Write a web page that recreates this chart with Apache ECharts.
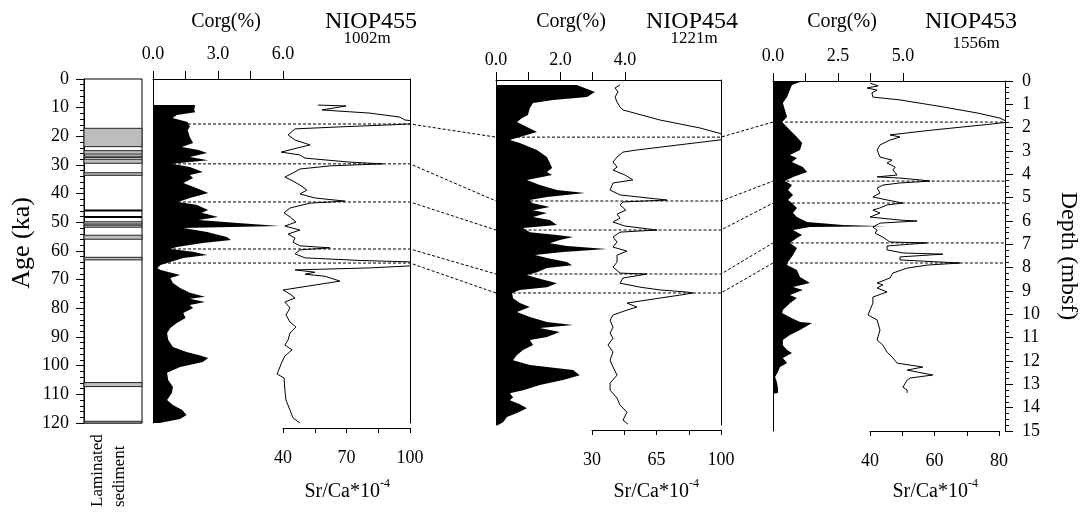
<!DOCTYPE html>
<html>
<head>
<meta charset="utf-8">
<script src="https://cdn.jsdelivr.net/npm/echarts@6/dist/echarts.min.js"></script>
<style>
  html, body { margin: 0; background: #fff; }
  #chart { width: 1083px; height: 524px; }
</style>
</head>
<body>
<div id="chart"></div>
<script>
const FONT = '"Liberation Serif", "DejaVu Serif", serif';

// NIOP455 (age, ka) - Corg fill profile
const age455C = [9.1, 10.8, 11.6, 12.6, 13.6, 15.0, 16.7, 17.8, 20.2, 22.3, 23.7, 24.8, 25.8, 27.2, 28.3, 29.6, 30.7, 32.4, 33.5, 34.5, 36.3, 38.0, 39.8, 41.5, 42.9, 43.9, 45.7, 46.7, 48.1, 49.2, 50.2, 51.3, 52.0, 53.4, 55.1, 56.2, 57.2, 58.6, 59.3, 60.3, 61.4, 62.4, 63.8, 64.9, 65.9, 66.6, 68.4, 69.4, 71.2, 72.9, 74.6, 76.0, 76.7, 77.8, 78.8, 79.9, 81.6, 83.4, 85.1, 86.9, 88.6, 91.0, 93.5, 95.2, 96.3, 97.3, 98.7, 100.5, 102.5, 105.0, 107.4, 109.5, 112.0, 113.7, 115.5, 117.2, 118.6, 120];
const corg455 = [1.94, 1.9, 1.95, 1.1, 0.9, 1.6, 1.7, 1.6, 1.7, 1.85, 1.33, 2.1, 2.5, 1.7, 2.55, 0.87, 1.7, 2.3, 1.7, 1.85, 1.4, 2.0, 2.55, 1.7, 1.15, 2.0, 2.55, 2.25, 3.0, 2.1, 3.9, 5.85, 1.4, 2.5, 3.4, 3.6, 2.3, 1.1, 0.8, 1.85, 2.5, 1.4, 0.8, 0.35, 0.2, 0.35, 1.25, 0.8, 0.92, 1.25, 1.7, 2.4, 1.7, 2.4, 1.7, 1.85, 1.4, 1.5, 1.1, 0.8, 0.65, 0.7, 0.92, 1.55, 2.1, 2.55, 2.3, 1.25, 0.65, 0.7, 0.92, 0.87, 0.65, 0.92, 1.35, 1.55, 1.25, 0.3];
// NIOP455 Sr/Ca
const age455S = [9.1, 9.4, 10.8, 11.9, 13.3, 14.3, 15.3, 16.0, 16.7, 17.4, 19.5, 21.3, 23.0, 24.1, 25.5, 26.5, 27.6, 29.0, 29.6, 30.3, 31.4, 32.8, 34.2, 35.6, 37.0, 38.7, 40.1, 41.5, 42.6, 43.3, 45.0, 46.7, 48.1, 49.9, 51.3, 52.7, 54.1, 55.5, 56.9, 58.2, 58.9, 59.6, 61.0, 62.4, 63.3, 63.8, 64.4, 65.2, 65.9, 66.6, 67.4, 68.1, 68.8, 70.5, 73.6, 75.0, 76.4, 77.8, 79.9, 82.3, 84.8, 86.5, 88.6, 91.0, 92.8, 94.5, 96.6, 98.7, 102.9, 104.3, 108.5, 112.0, 115.5, 118.2, 120.0];
const srca455 = [56.5, 69.8, 58.4, 81.1, 95.3, 97.6, 110.4, 90.5, 66.9, 45.7, 42.4, 45.7, 52.8, 46.6, 39.1, 48.0, 50.4, 71.6, 87.2, 62.2, 48.0, 44.7, 40.9, 44.7, 48.0, 51.3, 48.0, 55.1, 69.3, 52.8, 43.3, 40.5, 43.3, 46.1, 40.9, 48.0, 42.4, 45.7, 44.7, 48.0, 62.2, 48.0, 45.7, 50.4, 76.4, 100, 109.5, 100, 81, 45.7, 55.1, 50.4, 59.8, 66.9, 40.0, 43.3, 45.7, 40.9, 43.3, 41.4, 43.3, 46.1, 43.3, 42.4, 40.9, 44.3, 40.9, 39.5, 37.2, 40.5, 40.9, 41.4, 43.3, 44.7, 48.0];

// NIOP454 (depth, m) - Corg
const d454C = [0.21, 0.43, 0.51, 0.73, 0.85, 0.98, 1.20, 1.50, 1.62, 1.79, 2.01, 2.22, 2.44, 2.56, 2.69, 2.99, 3.29, 3.55, 3.76, 3.93, 4.06, 4.27, 4.49, 4.70, 4.83, 5.00, 5.13, 5.26, 5.43, 5.56, 5.68, 5.85, 5.98, 6.20, 6.32, 6.50, 6.62, 6.71, 6.84, 6.97, 7.09, 7.22, 7.35, 7.48, 7.61, 7.78, 7.91, 8.03, 8.21, 8.33, 8.46, 8.68, 8.85, 8.97, 9.10, 9.32, 9.53, 9.70, 9.91, 10.13, 10.34, 10.47, 10.60, 10.77, 10.98, 11.11, 11.32, 11.54, 11.75, 11.97, 12.18, 12.39, 12.61, 12.82, 13.03, 13.25, 13.38, 13.55, 13.68, 13.85, 14.02, 14.23, 14.40, 14.62, 14.70, 14.75];
const corg454 = [2.51, 2.91, 3.07, 2.82, 1.77, 1.15, 1.05, 0.99, 0.81, 0.65, 0.96, 1.27, 0.74, 0.43, 0.74, 1.27, 1.58, 1.67, 1.74, 1.58, 1.74, 0.96, 1.36, 1.89, 2.76, 1.58, 1.05, 1.12, 1.67, 1.15, 1.58, 1.15, 1.67, 1.89, 0.84, 1.05, 1.89, 2.39, 1.98, 1.67, 2.20, 3.44, 2.08, 1.21, 1.58, 2.20, 2.36, 1.58, 1.27, 0.96, 1.27, 1.89, 1.58, 0.74, 0.50, 0.53, 0.74, 1.05, 0.65, 1.05, 1.58, 2.39, 1.36, 1.98, 1.58, 1.05, 1.15, 0.84, 0.65, 0.53, 1.05, 2.39, 2.60, 2.08, 1.36, 0.84, 0.43, 0.53, 0.43, 0.74, 0.96, 0.65, 0.34, 0.22, 0.12, 0.05];
// NIOP454 Sr/Ca
const d454S = [0.21, 0.34, 0.51, 0.73, 0.94, 1.15, 1.28, 1.71, 2.05, 2.26, 2.44, 2.56, 2.99, 3.08, 3.29, 3.50, 3.72, 3.85, 4.06, 4.27, 4.40, 4.70, 4.91, 5.13, 5.21, 5.34, 5.56, 5.73, 5.90, 6.07, 6.24, 6.41, 6.50, 6.71, 6.92, 7.14, 7.31, 7.48, 7.78, 7.99, 8.25, 8.29, 8.46, 8.68, 8.85, 8.97, 9.06, 9.10, 9.19, 9.40, 9.53, 9.70, 9.83, 10.04, 10.26, 10.56, 10.81, 11.03, 11.32, 11.62, 11.97, 12.26, 12.61, 12.95, 13.25, 13.59, 13.89, 14.19, 14.53, 14.70];
const srca454 = [45.2, 42.5, 44.1, 42.5, 43.6, 45.2, 46.8, 66.9, 88.6, 98.4, 106.0, 99.5, 54.4, 46.8, 43.6, 41.4, 43.6, 41.4, 47.9, 52.2, 41.4, 39.8, 45.2, 70.7, 46.8, 45.2, 48.4, 43.6, 45.2, 41.4, 47.9, 65.3, 45.2, 41.4, 43.6, 41.4, 49.0, 43.6, 43.6, 41.4, 45.2, 59.8, 46.8, 45.2, 56.0, 66.9, 81.5, 84.8, 77.7, 59.8, 49.0, 54.4, 49.0, 41.4, 39.8, 41.4, 39.8, 41.4, 38.7, 41.4, 39.8, 41.4, 43.6, 39.8, 39.8, 43.6, 45.2, 49.0, 46.8, 49.5];

// NIOP453 (depth, mbsf) - Corg
const d453C = [0, 0.17, 0.39, 0.69, 0.94, 1.24, 1.54, 1.76, 2.10, 2.40, 2.66, 2.96, 3.17, 3.30, 3.47, 3.69, 3.90, 4.11, 4.29, 4.46, 4.67, 4.89, 5.10, 5.23, 5.44, 5.66, 5.83, 6.04, 6.17, 6.22, 6.26, 6.39, 6.60, 6.73, 6.94, 7.16, 7.46, 7.76, 7.89, 8.10, 8.40, 8.66, 8.83, 8.96, 9.17, 9.30, 9.52, 9.81, 9.94, 10.12, 10.33, 10.37, 10.67, 10.89, 11.10, 11.32, 11.53, 11.66, 11.87, 12.09, 12.26, 12.47, 12.69, 12.90, 13.16, 13.37, 13.40];
const corg453 = [1.15, 0.73, 0.65, 0.54, 0.38, 0.46, 0.54, 0.35, 0.65, 0.92, 1.12, 1.04, 0.65, 0.92, 0.73, 1.15, 1.31, 0.77, 0.46, 0.73, 0.58, 0.77, 0.58, 0.73, 0.92, 0.77, 0.92, 1.31, 2.69, 4.38, 1.42, 0.77, 1.12, 0.92, 0.65, 0.92, 0.77, 0.58, 0.54, 0.92, 1.04, 1.42, 0.77, 1.15, 0.65, 0.92, 0.65, 0.38, 0.35, 0.65, 1.04, 1.50, 1.04, 0.65, 0.38, 0.38, 0.54, 0.73, 0.38, 0.54, 0.27, 0.19, 0.08, 0.15, 0.19, 0.19, 0];
// NIOP453 Sr/Ca
const d453S = [0.09, 0.21, 0.30, 0.39, 0.51, 0.69, 0.81, 1.11, 1.37, 1.59, 1.76, 1.84, 2.10, 2.31, 2.40, 2.53, 2.74, 2.96, 3.26, 3.39, 3.51, 3.69, 3.81, 4.03, 4.11, 4.16, 4.24, 4.29, 4.37, 4.46, 4.59, 4.80, 4.97, 5.10, 5.23, 5.31, 5.44, 5.53, 5.66, 5.83, 5.96, 6.00, 6.09, 6.26, 6.39, 6.52, 6.69, 6.90, 6.94, 7.07, 7.24, 7.37, 7.42, 7.54, 7.67, 7.80, 7.89, 8.02, 8.23, 8.44, 8.66, 8.74, 8.87, 9.04, 9.26, 9.52, 9.81, 10.03, 10.24, 10.67, 11.10, 11.32, 11.62, 11.87, 12.09, 12.26, 12.39, 12.60, 12.73, 12.82, 13.12, 13.24, 13.37];
const srca453 = [40.0, 42.5, 39.1, 42.2, 40.6, 40.9, 49.3, 62.6, 73.2, 80.3, 82.8, 78.1, 59.5, 46.2, 49.3, 46.2, 43.1, 42.2, 43.1, 46.8, 45.3, 47.8, 47.1, 48.4, 42.2, 49.3, 55.5, 58.6, 49.3, 44.0, 42.2, 43.1, 40.9, 45.3, 50.2, 45.3, 43.1, 40.9, 43.1, 40.0, 49.3, 54.6, 43.1, 40.9, 42.2, 41.6, 44.0, 46.2, 57.7, 45.3, 45.3, 50.2, 62.6, 49.3, 49.3, 67.9, 57.7, 51.5, 47.1, 46.2, 42.2, 44.0, 42.2, 45.3, 40.9, 40.9, 40.0, 39.4, 42.2, 43.1, 42.2, 44.0, 45.3, 47.1, 48.4, 56.4, 51.5, 59.5, 52.4, 51.5, 50.2, 51.5, 51.5];

// correlation tie points (same event in each core)
const tie455 = [15.7, 29.6, 42.9, 59.3, 64.2];
const tie454 = [2.44, 5.17, 6.41, 8.29, 9.10];
const tie453 = [1.76, 4.29, 5.23, 6.94, 7.80];

// laminated intervals (ka)
const lamTop = [17.2, 25.0, 26.9, 28.0, 32.7, 45.5, 47.8, 49.8, 51.0, 54.5, 62.2, 105.9, 119.4];
const lamBot = [23.6, 26.2, 27.3, 29.4, 33.6, 46.2, 48.5, 50.6, 51.7, 55.9, 63.1, 107.3, 120];
const lamKind = ['s', 's', 's', 's', 's', 'b', 'b', 's', 's', 's', 's', 's', 's'];

// panel boxes and the narrower Sr/Ca scale boxes under them
const panels = [
  { left: 153, top: 79, width: 257, height: 344, corgMax: 11.86, depthMax: 120 },
  { left: 496, top: 80, width: 225, height: 345, corgMax: 6.98, depthMax: 14.74 },
  { left: 773, top: 81, width: 232, height: 350, corgMax: 8.92, depthMax: 15 }
];
const srBoxes = [
  { left: 283, width: 127, min: 40, max: 100, ticks: [40, 55, 70, 85, 100], offset: 5 },
  { left: 592, width: 129, min: 30, max: 100, ticks: [30, 47.5, 65, 82.5, 100], offset: 5 },
  { left: 870, width: 129, min: 40, max: 80, ticks: [40, 50, 60, 70, 80], offset: 0 }
];

const chart = echarts.init(document.getElementById('chart'));

function pairs(xs, ys) {
  return xs.map((v, i) => [v, ys[i]]);
}

function corgPolygon(vals, depths) {
  return function (params, api) {
    const pts = [api.coord([0, depths[0]])];
    vals.forEach((v, i) => pts.push(api.coord([v, depths[i]])));
    pts.push(api.coord([0, depths[depths.length - 1]]));
    return { type: 'polygon', shape: { points: pts }, style: { fill: '#000' } };
  };
}

const lbl = { color: '#000', fontFamily: FONT, fontSize: 18 };
const blackLine = { onZero: false, lineStyle: { color: '#000', width: 1 } };

function corgAxis(grid, max, ticks, labels, margin) {
  return {
    type: 'value', gridIndex: grid, position: 'top', min: 0, max: max,
    axisLine: blackLine,
    axisTick: { customValues: ticks, length: 8, lineStyle: { color: '#000' } },
    axisLabel: Object.assign({ customValues: labels, margin: margin, formatter: v => v.toFixed(1) }, lbl),
    splitLine: { show: false }
  };
}

function srAxis(grid, b) {
  return {
    type: 'value', gridIndex: grid, position: 'bottom', min: b.min, max: b.max, offset: b.offset,
    axisLine: blackLine,
    axisTick: { customValues: b.ticks, length: 5, lineStyle: { color: '#000' } },
    axisLabel: Object.assign({ customValues: [b.ticks[0], b.ticks[2], b.ticks[4]], margin: 21 }, lbl),
    splitLine: { show: false }
  };
}

// same Sr/Ca scale, stretched over the whole panel so the curve is never cut
function srHidden(grid, p, b) {
  const perPx = (b.max - b.min) / b.width;
  return {
    type: 'value', gridIndex: grid, show: false,
    min: b.min - (b.left - p.left) * perPx,
    max: b.min + (p.left + p.width - b.left) * perPx
  };
}

function plainY(grid, max, pos, showLine) {
  return {
    type: 'value', gridIndex: grid, inverse: true, min: 0, max: max, position: pos,
    axisLine: { show: showLine, onZero: false, lineStyle: { color: '#000', width: 1 } },
    axisTick: { show: false }, axisLabel: { show: false }, splitLine: { show: false }
  };
}

const grids = [
  { left: 84, top: 79, width: 58, height: 344, show: true, borderColor: '#000', borderWidth: 1 },
  { left: panels[0].left, top: panels[0].top, width: panels[0].width, height: panels[0].height },
  { left: srBoxes[0].left, top: panels[0].top, width: srBoxes[0].width, height: panels[0].height },
  { left: panels[1].left, top: panels[1].top, width: panels[1].width, height: panels[1].height },
  { left: srBoxes[1].left, top: panels[1].top, width: srBoxes[1].width, height: panels[1].height },
  { left: panels[2].left, top: panels[2].top, width: panels[2].width, height: panels[2].height },
  { left: srBoxes[2].left, top: panels[2].top, width: srBoxes[2].width, height: panels[2].height }
].map(g => Object.assign({ outerBoundsMode: 'none', containLabel: false }, g));

const option = {
  animation: false,
  backgroundColor: '#fff',
  grid: grids,
  xAxis: [
    { type: 'value', gridIndex: 0, min: 0, max: 1, show: false },
    corgAxis(1, panels[0].corgMax, [0, 1.5, 3, 4.5, 6], [0, 3, 6], 16),
    srAxis(2, srBoxes[0]),
    corgAxis(3, panels[1].corgMax, [0, 1, 2, 3, 4], [0, 2, 4], 11),
    srAxis(4, srBoxes[1]),
    corgAxis(5, panels[2].corgMax, [0, 1.25, 2.5, 3.75, 5], [0, 2.5, 5], 16),
    srAxis(6, srBoxes[2]),
    srHidden(1, panels[0], srBoxes[0]),
    srHidden(3, panels[1], srBoxes[1]),
    srHidden(5, panels[2], srBoxes[2])
  ],
  yAxis: [
    {
      type: 'value', gridIndex: 0, inverse: true, min: 0, max: 120, interval: 10, position: 'left',
      axisLine: blackLine,
      axisTick: { length: 8, lineStyle: { color: '#000' } },
      minorTick: { show: true, splitNumber: 5, length: 4, lineStyle: { color: '#000' } },
      axisLabel: Object.assign({ margin: 15 }, lbl),
      splitLine: { show: false }, minorSplitLine: { show: false }
    },
    plainY(1, panels[0].depthMax, 'left', true),
    plainY(2, panels[0].depthMax, 'right', true),
    plainY(3, panels[1].depthMax, 'left', true),
    plainY(4, panels[1].depthMax, 'right', true),
    plainY(5, panels[2].depthMax, 'left', true),
    {
      type: 'value', gridIndex: 5, inverse: true, min: 0, max: 15, interval: 1, position: 'right',
      axisLine: blackLine,
      axisTick: { length: 8, lineStyle: { color: '#000' } },
      minorTick: { show: true, splitNumber: 4, length: 4, lineStyle: { color: '#000' } },
      axisLabel: Object.assign({ margin: 17 }, lbl),
      splitLine: { show: false }, minorSplitLine: { show: false }
    },
    plainY(6, panels[2].depthMax, 'right', false)
  ],
  series: [
    {
      type: 'custom', xAxisIndex: 0, yAxisIndex: 0,
      data: lamTop.map((t, i) => [t, lamBot[i], lamKind[i] === 'b' ? 1 : 0]),
      encode: { y: [0, 1] },
      renderItem: function (params, api) {
        const a = api.coord([0, api.value(0)]);
        const b = api.coord([1, api.value(1)]);
        const black = api.value(2) === 1;
        return {
          type: 'rect',
          shape: { x: a[0], y: a[1], width: b[0] - a[0], height: Math.max(1.5, b[1] - a[1]) },
          style: { fill: black ? '#000' : '#bdbdbd', stroke: '#222', lineWidth: black ? 0 : 1 }
        };
      }
    },
    { type: 'custom', xAxisIndex: 1, yAxisIndex: 1, data: [[0, age455C[0]]], renderItem: corgPolygon(corg455, age455C) },
    { type: 'custom', xAxisIndex: 3, yAxisIndex: 3, data: [[0, d454C[0]]], renderItem: corgPolygon(corg454, d454C) },
    { type: 'custom', xAxisIndex: 5, yAxisIndex: 5, data: [[0, d453C[0]]], renderItem: corgPolygon(corg453, d453C) },
    { type: 'line', xAxisIndex: 7, yAxisIndex: 1, data: pairs(srca455, age455S), symbol: 'none', clip: false, lineStyle: { color: '#000', width: 1 } },
    { type: 'line', xAxisIndex: 8, yAxisIndex: 3, data: pairs(srca454, d454S), symbol: 'none', clip: false, lineStyle: { color: '#000', width: 1 } },
    { type: 'line', xAxisIndex: 9, yAxisIndex: 5, data: pairs(srca453, d453S), symbol: 'none', clip: false, lineStyle: { color: '#000', width: 1 } }
  ]
};

chart.setOption(option);

function txt(x, y, text, size, extra) {
  return Object.assign({
    type: 'text', x: x, y: y, z: 10, silent: true,
    style: {
      text: text, fontSize: size, fontFamily: FONT, fill: '#000',
      align: 'center', textAlign: 'center', verticalAlign: 'middle', textVerticalAlign: 'middle'
    }
  }, extra || {});
}

function srLabel(cx) {
  return [
    txt(cx + 33, 492, 'Sr/Ca*10', 20, {}),
    txt(cx + 33, 484, '-4', 12, {})
  ].map((t, i) => {
    t.style.align = t.style.textAlign = i === 0 ? 'right' : 'left';
    return t;
  });
}

function rotated(x, y, text, size, rot, align) {
  const t = txt(x, y, text, size, { rotation: rot });
  t.style.align = t.style.textAlign = align;
  return t;
}

const texts = [
  txt(226, 22, 'Corg(%)', 20), txt(371, 22, 'NIOP455', 24), txt(367, 39, '1002m', 17),
  txt(571, 22, 'Corg(%)', 20), txt(692, 22, 'NIOP454', 24), txt(694, 39, '1221m', 17),
  txt(842, 22, 'Corg(%)', 20), txt(971, 22, 'NIOP453', 24), txt(976, 44, '1556m', 17),
  rotated(22, 243, 'Age (ka)', 26, Math.PI / 2, 'center'),
  rotated(1068, 256, 'Depth (mbsf)', 24, -Math.PI / 2, 'center'),
  rotated(98, 507, 'Laminated', 17, Math.PI / 2, 'left'),
  rotated(120, 507, 'sediment', 17, Math.PI / 2, 'left')
].concat(srLabel(347), srLabel(656), srLabel(935));

// dashed correlation lines through all three cores
const ties = tie455.map((a, i) => {
  const d = [a, tie454[i], tie453[i]];
  const pts = [];
  [1, 3, 5].forEach((ax, k) => {
    pts.push(chart.convertToPixel({ xAxisIndex: ax, yAxisIndex: ax }, [0, d[k]]));
    pts.push(chart.convertToPixel({ xAxisIndex: ax, yAxisIndex: ax }, [panels[k].corgMax, d[k]]));
  });
  return {
    type: 'polyline', z: 0, silent: true, shape: { points: pts },
    style: { stroke: '#000', lineWidth: 1, lineDash: [3, 2], fill: null }
  };
});

chart.setOption({ graphic: ties.concat(texts) });
</script>
</body>
</html>
